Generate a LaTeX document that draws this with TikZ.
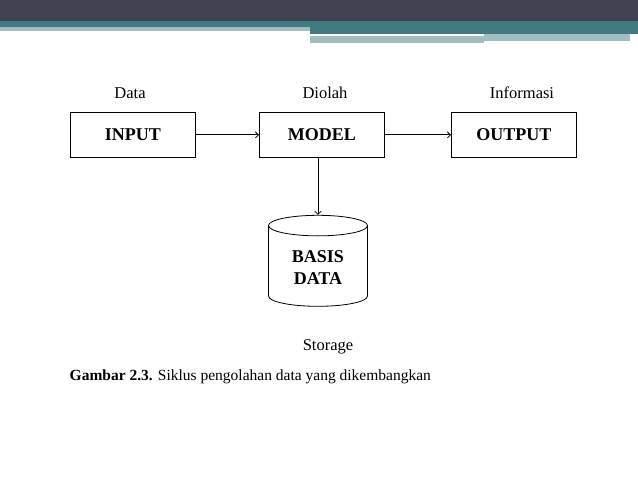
\documentclass[tikz,border=0pt]{standalone}
\usepackage{fontspec}
\setmainfont{Liberation Serif}
\usetikzlibrary{shapes.geometric,arrows}
\definecolor{bardark}{HTML}{404252}
\definecolor{barteal}{HTML}{417A80}
\definecolor{barlight}{HTML}{A3BEC1}
\tikzstyle{block} = [draw, rectangle, minimum height=45pt, minimum width=125pt, inner sep=0pt,
  font=\fontsize{18}{20}\selectfont\bfseries, anchor=north west]
\tikzstyle{lbl} = [font=\fontsize{16.5}{18}\selectfont]
\tikzstyle{store} = [draw, cylinder, shape border rotate=90, aspect=0.35, minimum width=99pt,
  minimum height=91pt, align=center, font=\fontsize{18}{22}\selectfont\bfseries]
\begin{document}
\begin{tikzpicture}[x=1pt, y=-1pt, >=angle 90, line width=0.8pt]
\useasboundingbox (0,0) rectangle (638,478);

% banner at the top
\fill[bardark] (0,0) rectangle (638,21);
\fill[barteal] (0,21) rectangle (638,27);
\fill[barlight] (0,27) rectangle (310,31);
\fill[barteal] (310,27) rectangle (638,34);
\fill[barlight] (310,36) rectangle (484,43);
\fill[barlight] (484,34) rectangle (630,41);

% the blocks
\node [block] (input) at (70,112) {INPUT};
\node [block] (model) at (259,112) {MODEL};
\node [block] (output) at (451,112) {OUTPUT};
\node [store] (basis) at (318,268) {BASIS\\DATA};

% labels
\node [lbl] (data) at (130,93) {Data};
\node [lbl] (diolah) at (325,93) {Diolah};
\node [lbl] (info) at (522,93) {Informasi};
\node [lbl] (storage) at (328,347) {Storage};
\node [lbl, anchor=west, font=\fontsize{15.5}{18}\selectfont] (caption) at (66,377)
  {\textbf{Gambar 2.3.} Siklus pengolahan data yang dikembangkan};

% connectors
\draw [->] (input) -- (model);
\draw [->] (model) -- (output);
\draw [->] (basis.north |- model.south) -- (basis.north);
\end{tikzpicture}
\end{document}
